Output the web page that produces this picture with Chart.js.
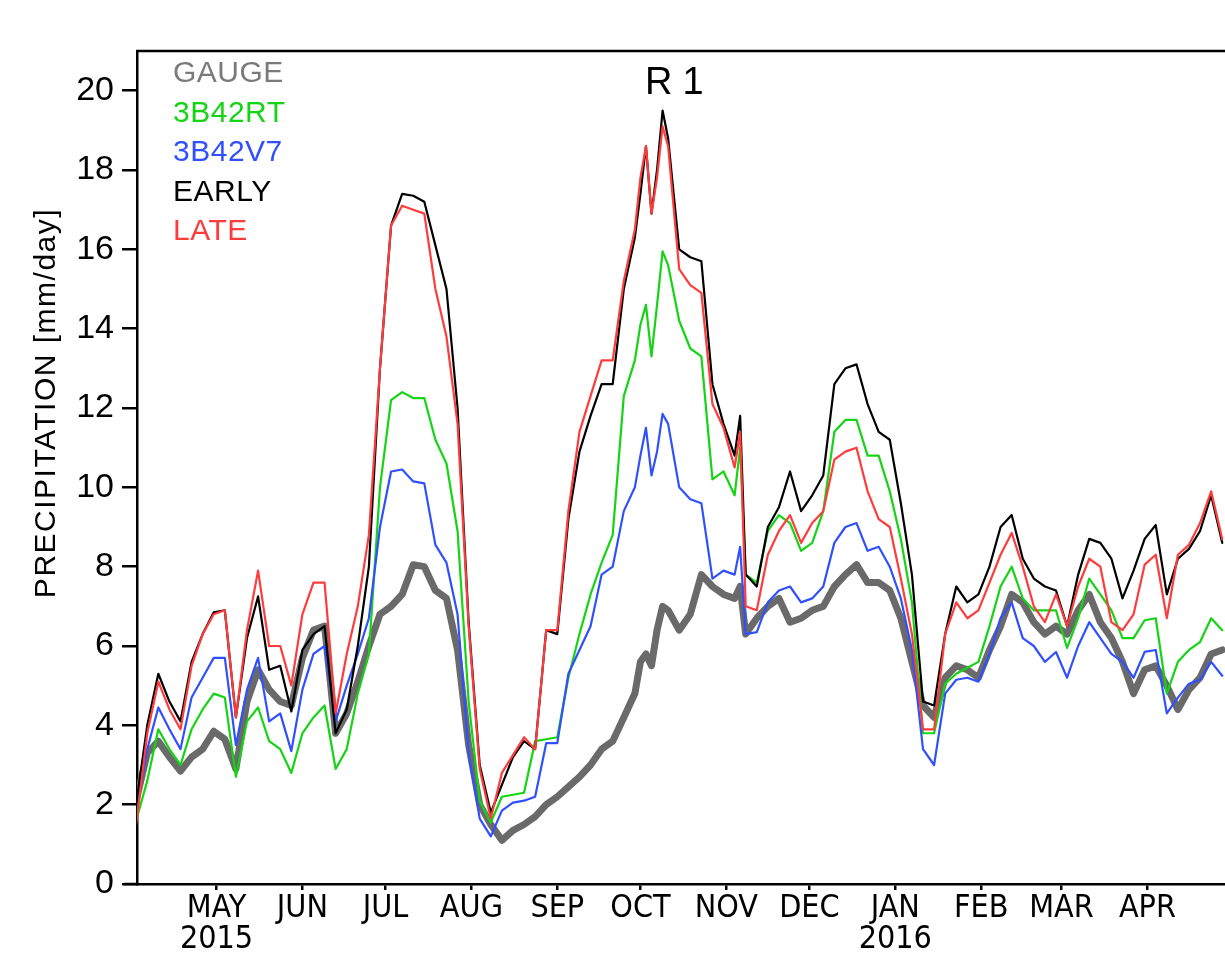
<!DOCTYPE html>
<html><head><meta charset="utf-8">
<script src="https://cdn.jsdelivr.net/npm/chart.js@4.4.1/dist/chart.umd.min.js"></script>
<style>html,body{margin:0;padding:0;background:#fff;overflow:hidden}#wrap{width:1225px;height:955px}</style>
</head><body><div id="wrap"><canvas id="c" width="1225" height="955"></canvas></div>
<script>
// day index counted from 1 April 2015
const days = [1,5,9,13,17,21,25,29,33,37,
41,45,49,53,57,61,65,69,73,77,
81,85,89,93,97,101,105,109,113,117,
121,125,129,133,137,141,145,149,153,157,
161,165,169,173,177,181,183,185,187,189,
191,193,197,201,205,209,213,217,219,221,
225,229,233,237,241,245,249,253,257,261,
265,269,273,277,281,285,289,293,297,301,
305,309,313,317,321,325,329,333,337,341,
345,349,353,357,361,365,369,373,377,381,
385,389,393];

const gauge = [2.1,3.3,3.6,3.2,2.85,3.2,3.4,3.85,3.65,2.9,
4.6,5.4,4.9,4.6,4.5,5.7,6.4,6.5,3.8,4.3,
5.1,6.0,6.8,7.0,7.3,8.05,8.0,7.4,7.2,5.9,
3.5,2.0,1.5,1.1,1.35,1.5,1.7,2.0,2.2,2.45,
2.7,3.0,3.4,3.6,4.2,4.8,5.6,5.8,5.5,6.4,
7.0,6.9,6.4,6.8,7.8,7.5,7.3,7.2,7.5,6.3,
6.7,7.0,7.2,6.6,6.7,6.9,7.0,7.5,7.8,8.05,
7.6,7.6,7.4,6.7,5.6,4.5,4.2,5.2,5.5,5.4,
5.2,5.9,6.5,7.3,7.1,6.6,6.3,6.5,6.3,6.9,
7.3,6.6,6.2,5.6,4.8,5.4,5.5,5.0,4.4,4.9,
5.2,5.8,5.9];

const rt = [1.6,2.6,3.9,3.4,3.0,3.9,4.4,4.8,4.7,2.7,
4.1,4.45,3.6,3.4,2.8,3.8,4.2,4.5,2.9,3.4,
4.8,5.8,10.0,12.2,12.4,12.25,12.25,11.2,10.6,8.9,
4.6,2.1,1.55,2.2,2.25,2.3,3.6,3.65,3.7,5.2,
6.3,7.3,8.1,8.8,12.3,13.2,14.1,14.6,13.3,14.6,
15.95,15.6,14.2,13.5,13.3,10.2,10.4,9.8,11.0,7.8,
7.6,8.9,9.3,9.1,8.4,8.6,9.4,11.4,11.7,11.7,
10.8,10.8,9.9,8.7,7.1,3.8,3.8,5.05,5.3,5.45,
5.6,6.5,7.5,8.0,7.2,6.9,6.9,6.9,5.95,6.7,
7.7,7.3,6.9,6.2,6.2,6.65,6.7,4.8,5.6,5.9,
6.1,6.7,6.4];

const v7 = [1.8,3.4,4.45,3.9,3.4,4.7,5.2,5.7,5.7,3.5,
4.9,5.7,4.1,4.3,3.35,4.9,5.8,6.0,4.1,5.0,
5.8,6.7,9.0,10.4,10.45,10.15,10.1,8.55,8.1,6.8,
3.3,1.65,1.2,1.85,2.05,2.1,2.2,3.55,3.55,5.3,
5.9,6.5,7.8,8.0,9.4,10.0,10.8,11.5,10.3,10.9,
11.85,11.6,10.0,9.7,9.6,7.7,7.9,7.8,8.5,6.3,
6.35,7.1,7.4,7.5,7.1,7.2,7.5,8.6,9.0,9.1,
8.4,8.5,8.0,7.2,5.9,3.4,3.0,4.8,5.15,5.2,
5.1,5.8,6.7,7.1,6.2,6.0,5.6,5.85,5.2,6.0,
6.6,6.2,5.8,5.6,5.2,5.85,5.9,4.3,4.7,5.05,
5.15,5.6,5.25];

const early = [2.0,4.0,5.3,4.6,4.1,5.6,6.3,6.85,6.9,4.2,
6.2,7.25,5.4,5.5,4.35,5.9,6.3,6.5,3.8,4.4,
6.0,8.0,13.0,16.6,17.4,17.35,17.2,16.1,15.0,12.0,
6.6,3.0,1.8,2.5,3.2,3.6,3.4,6.4,6.3,9.2,
10.9,11.8,12.6,12.6,15.0,16.3,17.4,18.6,16.9,18.0,
19.5,18.8,16.0,15.8,15.7,12.6,11.6,10.8,11.8,7.8,
7.5,9.0,9.5,10.4,9.4,9.8,10.3,12.6,13.0,13.1,
12.1,11.4,11.2,9.6,7.8,4.6,4.5,6.3,7.5,7.1,
7.3,8.0,9.0,9.3,8.2,7.7,7.5,7.4,6.5,7.8,
8.7,8.6,8.2,7.2,7.9,8.7,9.05,7.3,8.2,8.45,
8.9,9.8,8.6];

const late = [1.5,3.8,5.1,4.4,3.9,5.5,6.3,6.8,6.9,4.2,
6.4,7.9,6.0,6.0,5.0,6.8,7.6,7.6,4.3,5.8,
7.0,8.8,13.0,16.6,17.1,17.0,16.9,15.0,13.8,11.6,
6.5,2.9,1.65,2.8,3.25,3.7,3.4,6.4,6.4,9.4,
11.4,12.3,13.2,13.2,15.2,16.5,17.8,18.6,16.9,17.8,
19.1,18.6,15.5,15.1,14.9,12.1,11.5,10.5,11.4,7.0,
6.9,8.3,8.9,9.3,8.6,9.1,9.4,10.7,10.9,11.0,
9.9,9.2,9.0,7.7,6.3,3.9,3.9,6.3,7.1,6.7,
6.9,7.6,8.3,8.85,8.0,7.0,6.6,7.3,6.5,7.5,
8.2,8.0,6.6,6.4,6.8,8.05,8.3,6.7,8.3,8.55,
9.1,9.9,8.7];

const seriesNames = ["GAUGE","3B42RT","3B42V7","EARLY","LATE"];
const seriesColors = ["#6a6a6a","#14d414","#3050ff","#000000","#ff3c3c"];
const legendColors = ["#7a7a7a","#14d414","#3050ff","#000000","#ff3c3c"];

const monthTicks = [30,61,91,122,153,183,214,244,275,306,335,366];
const monthLabels = [["MAY","2015"],"JUN","JUL","AUG","SEP","OCT","NOV","DEC",["JAN","2016"],"FEB","MAR","APR"];
const yTicks = [0,2,4,6,8,10,12,14,16,18,20];
const titleText = "R1";
const yTitle = "PRECIPITATION [mm/day]";

const allSeries = [gauge, rt, v7, early, late];
const widths = [7, 2.2, 2.2, 2.2, 2.2];
const orders = [5, 4, 3, 2, 1];

const datasets = allSeries.map((arr, k) => ({
  label: seriesNames[k],
  data: days.map((d, i) => ({x: d, y: arr[i]})),
  borderColor: seriesColors[k],
  backgroundColor: seriesColors[k],
  borderWidth: widths[k],
  pointRadius: 0,
  tension: 0,
  fill: false,
  order: orders[k],
  borderJoinStyle: 'round',
  borderCapStyle: 'round'
}));

const decor = {
  id: 'decor',
  afterDraw(chart) {
    const ctx = chart.ctx, a = chart.chartArea;
    ctx.save();
    ctx.strokeStyle = '#000'; ctx.lineWidth = 2.5;
    ctx.beginPath(); ctx.moveTo(a.left - 1, a.top); ctx.lineTo(a.right + 2, a.top); ctx.stroke();
    ctx.beginPath(); ctx.moveTo(124, a.bottom); ctx.lineTo(a.left, a.bottom); ctx.stroke();
    // legend
    ctx.font = '30px "Liberation Sans", Arial, sans-serif';
    ctx.textBaseline = 'middle'; ctx.textAlign = 'left';
    try { ctx.letterSpacing = '0.5px'; } catch(e) {}
    seriesNames.forEach((n, i) => {
      ctx.fillStyle = legendColors[i];
      ctx.fillText(n, 173, 74 + i * 39.5);
    });
    // title
    ctx.fillStyle = '#000';
    ctx.font = '38px "Liberation Sans", Arial, sans-serif';
    try { ctx.letterSpacing = '10px'; } catch(e) {}
    ctx.fillText(titleText, 645, 84);
    try { ctx.letterSpacing = '0px'; } catch(e) {}
    // y title
    ctx.translate(47, 403);
    ctx.rotate(-Math.PI / 2);
    ctx.textAlign = 'center';
    ctx.font = '30px "Liberation Sans Narrow", "Liberation Sans", Arial, sans-serif';
    try { ctx.letterSpacing = '1.5px'; } catch(e) {}
    ctx.fillText(yTitle, 0, 0);
    ctx.restore();
  }
};

new Chart(document.getElementById('c'), {
  type: 'line',
  data: { datasets },
  plugins: [decor],
  options: {
    responsive: false,
    animation: false,
    devicePixelRatio: 1,
    layout: { padding: { top: 51, left: 0, right: 0, bottom: 0 } },
    plugins: { legend: { display: false }, tooltip: { enabled: false }, title: { display: false } },
    scales: {
      x: {
        type: 'linear', min: 1.3, max: 394,
        afterBuildTicks: s => { s.ticks = monthTicks.map(v => ({ value: v })); },
        afterFit: s => { s.height = 71; },
        ticks: {
          autoSkip: false, maxRotation: 0, minRotation: 0, padding: 3,
          color: '#000',
          font: { family: '"Liberation Sans Narrow", "DejaVu Sans Condensed", Arial, sans-serif', size: 32, lineHeight: 0.98 },
          callback: (v, i) => monthLabels[i]
        },
        grid: { drawOnChartArea: false, drawTicks: true, tickLength: 6, color: '#000', lineWidth: 2.5 },
        border: { display: true, color: '#000', width: 2.5 }
      },
      y: {
        type: 'linear', min: 0, max: 21,
        afterBuildTicks: s => { s.ticks = yTicks.map(v => ({ value: v })); },
        afterFit: s => { s.width = 137; },
        ticks: {
          padding: 8, color: '#000',
          font: { family: '"Liberation Sans", Arial, sans-serif', size: 34 },
          callback: v => String(v)
        },
        grid: { drawOnChartArea: false, drawTicks: true, tickLength: 15, color: '#000', lineWidth: 2.5 },
        border: { display: true, color: '#000', width: 2.5 }
      }
    }
  }
});
</script></body></html>
